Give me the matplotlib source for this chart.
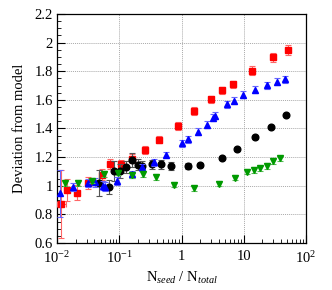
import matplotlib
matplotlib.use('Agg')
import matplotlib.pyplot as plt
from matplotlib.ticker import FixedLocator, MultipleLocator, LogLocator, NullFormatter

# --- data ---
red_x = [0.0116, 0.0143, 0.0212, 0.031, 0.053, 0.072, 0.107, 0.158, 0.262, 0.435,
         0.89, 1.56, 3.03, 4.55, 6.68, 13.4, 29.9, 50.5]
red_y = [0.873, 0.97, 0.952, 1.02, 1.078, 1.152, 1.152, 1.19, 1.249, 1.322,
         1.418, 1.522, 1.604, 1.666, 1.708, 1.803, 1.897, 1.945]
red_err = [0.24, 0.075, 0.05, 0.04, 0.04, 0.035, 0.03, 0.03, 0.03, 0.025,
           0.03, 0.025, 0.025, 0.025, 0.025, 0.03, 0.03, 0.035]
red_xlo = [0.0015, 0.0012] + [0] * 16
red_xhi = [0.0022, 0.0015] + [0] * 16

blue_x = [0.0113, 0.0183, 0.031, 0.0407, 0.054, 0.060, 0.091, 0.158, 0.23, 0.36,
          0.57, 1.0, 1.29, 1.86, 2.57, 3.17, 3.45, 5.3, 7.1, 9.7,
          15.2, 23.3, 34.6, 46.0]
blue_y = [0.947, 0.99, 1.02, 1.024, 1.0, 0.994, 1.033, 1.08, 1.13, 1.165,
          1.218, 1.296, 1.325, 1.378, 1.425, 1.475, 1.49, 1.569, 1.594, 1.637,
          1.672, 1.702, 1.727, 1.742]
blue_err = [0.165, 0.03, 0.03, 0.03, 0.03, 0.03, 0.025, 0.025, 0.025, 0.025,
            0.02, 0.025, 0.025, 0.025, 0.025, 0.025, 0.025, 0.025, 0.025, 0.025,
            0.025, 0.025, 0.025, 0.025]

black_x = [0.048, 0.068, 0.081, 0.104, 0.128, 0.162, 0.20, 0.235, 0.332, 0.465,
           0.69, 1.29, 1.98, 4.42, 7.7, 15.1, 27.1, 47.2]
black_y = [1.017, 0.99, 1.105, 1.103, 1.131, 1.18, 1.148, 1.135, 1.15, 1.15,
           1.138, 1.14, 1.145, 1.192, 1.254, 1.337, 1.412, 1.494]
black_err = [0.09, 0.05, 0.07, 0.05, 0.04, 0.05, 0.04, 0.035, 0.03, 0.03,
             0.025, 0.02, 0.012, 0.008, 0.008, 0.008, 0.008, 0.008]

green_x = [0.0135, 0.022, 0.036, 0.057, 0.097, 0.158, 0.245, 0.39, 0.765, 1.58,
           4.05, 7.15, 11.4, 14.6, 18.2, 23.9, 29.2, 38.2]
green_y = [1.02, 1.017, 1.036, 1.084, 1.092, 1.072, 1.083, 1.062, 1.006, 0.982,
           1.013, 1.056, 1.097, 1.11, 1.122, 1.138, 1.173, 1.192]
green_err = [0.02, 0.02, 0.02, 0.02, 0.02, 0.02, 0.02, 0.02, 0.018, 0.018,
             0.018, 0.018, 0.018, 0.018, 0.018, 0.018, 0.018, 0.018]

x_ticks = [0.01, 0.1, 1, 10, 100]
x_labels = ['10$^{-2}$', '10$^{-1}$', '1', '10', '10$^{2}$']
y_ticks = [0.6, 0.8, 1.0, 1.2, 1.4, 1.6, 1.8, 2.0, 2.2]
y_labels = ['0.6', '0.8', '1', '1.2', '1.4', '1.6', '1.8', '2', '2.2']

plt.rcParams['font.family'] = ['Liberation Serif', 'DejaVu Serif']
plt.rcParams['mathtext.fontset'] = 'custom'
plt.rcParams['mathtext.rm'] = 'Liberation Serif'
plt.rcParams['mathtext.it'] = 'Liberation Serif:italic'

fig = plt.figure(figsize=(3.32, 2.90), dpi=100)
ax = fig.add_axes([0.1717, 0.162, 0.7500, 0.790])

ekw = dict(linestyle='none', capsize=2.2, elinewidth=0.8, capthick=0.8, markersize=4.8)
ax.errorbar(red_x, red_y, yerr=red_err, xerr=[red_xlo, red_xhi], fmt='s', color='#ff0000',
            ecolor='#ff6666', zorder=3, **ekw)
ax.errorbar(black_x, black_y, yerr=black_err, fmt='o', color='black',
            ecolor='#555555', zorder=4, **ekw)
ax.errorbar(blue_x, blue_y, yerr=blue_err, fmt='^', color='#0000ff',
            ecolor='#6666ff', zorder=5, **ekw)
ax.errorbar(green_x, green_y, yerr=green_err, fmt='v', color='#009a00',
            ecolor='#55bb55', zorder=6, **ekw)

ax.set_xscale('log')
ax.set_xlim(0.01, 100)
ax.set_ylim(0.6, 2.2)
ax.xaxis.set_major_locator(FixedLocator(x_ticks))
ax.set_xticklabels(x_labels)
ax.xaxis.set_minor_locator(LogLocator(base=10, subs=range(2, 10)))
ax.xaxis.set_minor_formatter(NullFormatter())
ax.set_yticks(y_ticks)
ax.set_yticklabels(y_labels)
ax.yaxis.set_minor_locator(MultipleLocator(0.05))

ax.tick_params(which='both', direction='in', labelsize=10.5, top=False, right=False)
ax.tick_params(which='major', length=6, width=0.8)
ax.tick_params(which='minor', length=3, width=0.6)
ax.tick_params(axis='x', pad=5)
ax.tick_params(axis='y', pad=3)

ax.grid(which='major', color='#aaaaaa', linestyle=(0, (1, 1)), linewidth=0.7)
ax.set_axisbelow(True)
for s in ax.spines.values():
    s.set_linewidth(0.9)

ax.set_xlabel(r'N$_{\mathit{seed}}$ / N$_{\mathit{total}}$', fontsize=10.5, labelpad=3)
ax.set_ylabel('Deviation from model', fontsize=10.5, labelpad=6)

fig.savefig('out.png', dpi=100)
